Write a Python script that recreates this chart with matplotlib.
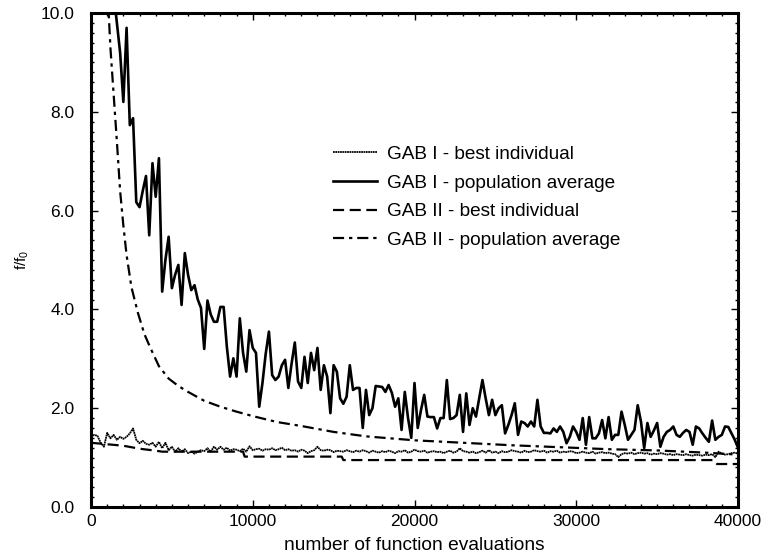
import numpy as np
import matplotlib
matplotlib.use("Agg")
import matplotlib.pyplot as plt
from matplotlib.ticker import MultipleLocator, FormatStrFormatter

plt.rcParams['font.family'] = ['Liberation Sans', 'DejaVu Sans']

# evaluations grid for GAB I series (one point per 200 evaluations)
evals = np.arange(0, 40001, 200)

gab1_avg = [
    30, 25, 21, 18, 15.5, 13.5, 11.8, 10.4, 9.8, 9.2,
    8.2, 9.7, 7.73, 7.87, 6.17, 6.07, 6.4, 6.7, 5.5, 6.96,
    6.28, 7.06, 4.36, 5.0, 5.47, 4.43, 4.7, 4.9, 4.09, 5.14,
    4.7, 4.39, 4.49, 4.2, 4.03, 3.2, 4.18, 3.9, 3.75, 3.75,
    4.05, 4.05, 3.24, 2.64, 3.01, 2.64, 3.82, 3.12, 2.74, 3.58,
    3.22, 3.12, 2.03, 2.51, 3.1, 3.55, 2.67, 2.57, 2.64, 2.87,
    2.98, 2.41, 2.9, 3.33, 2.54, 2.41, 3.04, 2.51, 3.12, 2.77,
    3.22, 2.37, 2.87, 2.64, 1.9, 2.87, 2.74, 2.2, 2.09, 2.23,
    2.87, 2.37, 2.41, 2.41, 1.6, 2.37, 1.86, 2.0, 2.45, 2.44,
    2.43, 2.33, 2.47, 2.31, 2.03, 2.2, 1.56, 2.33, 1.8, 1.4,
    2.51, 1.6, 1.96, 2.27, 1.83, 1.82, 1.82, 1.59, 1.8, 1.8,
    2.57, 1.78, 1.8, 1.86, 2.27, 1.52, 2.3, 1.66, 2.0, 1.83,
    2.2, 2.57, 2.2, 1.86, 2.17, 1.86, 2.0, 2.06, 1.49, 1.66,
    1.86, 2.1, 1.46, 1.73, 1.7, 1.63, 1.73, 1.63, 2.17, 1.63,
    1.5, 1.5, 1.49, 1.59, 1.52, 1.63, 1.52, 1.29, 1.42, 1.63,
    1.52, 1.36, 1.8, 1.26, 1.82, 1.39, 1.39, 1.49, 1.76, 1.39,
    1.82, 1.36, 1.46, 1.46, 1.93, 1.66, 1.36, 1.46, 1.56, 2.06,
    1.73, 1.19, 1.7, 1.42, 1.55, 1.7, 1.22, 1.42, 1.52, 1.56,
    1.63, 1.46, 1.42, 1.5, 1.56, 1.52, 1.26, 1.63, 1.59, 1.49,
    1.4, 1.32, 1.75, 1.36, 1.42, 1.46, 1.63, 1.62, 1.49, 1.36,
    1.2,
]

gab1_best = [
    1.42, 1.46, 1.44, 1.3, 1.22, 1.5, 1.39, 1.46, 1.36, 1.42,
    1.38, 1.42, 1.49, 1.59, 1.36, 1.29, 1.34, 1.28, 1.26, 1.3,
    1.22, 1.32, 1.19, 1.3, 1.15, 1.22, 1.12, 1.19, 1.12, 1.17,
    1.09, 1.12, 1.08, 1.12, 1.15, 1.13, 1.19, 1.12, 1.22, 1.16,
    1.22, 1.16, 1.2, 1.14, 1.17, 1.16, 1.13, 1.18, 1.12, 1.23,
    1.15, 1.17, 1.18, 1.14, 1.17, 1.16, 1.19, 1.15, 1.17, 1.2,
    1.15, 1.17, 1.14, 1.15, 1.12, 1.16, 1.14, 1.09, 1.13, 1.15,
    1.22, 1.15, 1.14, 1.16, 1.15, 1.11, 1.14, 1.13, 1.12, 1.15,
    1.13, 1.11, 1.14, 1.12, 1.15, 1.13, 1.1, 1.14, 1.12, 1.1,
    1.13, 1.11, 1.14, 1.12, 1.09, 1.13, 1.12, 1.15, 1.1, 1.12,
    1.16, 1.13, 1.12, 1.14, 1.1, 1.12, 1.13, 1.11, 1.12, 1.09,
    1.12, 1.14, 1.1, 1.12, 1.19, 1.13, 1.12, 1.1, 1.12, 1.09,
    1.11, 1.14, 1.1, 1.15, 1.1, 1.12, 1.09, 1.13, 1.11, 1.12,
    1.15, 1.13, 1.12, 1.1, 1.14, 1.11, 1.12, 1.15, 1.13, 1.12,
    1.14, 1.1, 1.13, 1.12, 1.14, 1.1, 1.12, 1.11, 1.13, 1.12,
    1.09, 1.1, 1.12, 1.1, 1.09, 1.12, 1.08, 1.1, 1.11, 1.09,
    1.1, 1.08, 1.07, 1.01, 1.07, 1.09, 1.08, 1.1, 1.07, 1.09,
    1.1, 1.08, 1.09, 1.06, 1.08, 1.07, 1.09, 1.08, 1.06, 1.07,
    1.05, 1.07, 1.06, 1.05, 1.07, 1.05, 1.04, 1.06, 1.05, 1.04,
    1.06, 1.05, 1.07, 1.01, 1.12, 1.08, 1.06, 1.07, 1.09, 1.1,
    1.08,
]

gab2_best_x = [0, 1000, 2000, 3000, 4000, 4400, 9400, 9500, 15500, 15600, 38500, 38700, 40000]
gab2_best = [1.3, 1.27, 1.24, 1.18, 1.14, 1.12, 1.12, 1.02, 1.02, 0.95, 0.95, 0.87, 0.87]

gab2_avg_x = [600, 800, 1000, 1200, 1400, 1600, 1800, 2000, 2200, 2500, 2900, 3300, 3700,
              4200, 4800, 5400, 6000, 7000, 8000, 9000, 10000, 11500, 13000, 15000, 17000,
              20000, 23000, 26000, 29000, 32000, 35000, 38000, 40000]
gab2_avg = [16, 13, 10.6, 9.3, 8.35, 7.4, 6.4, 5.7, 5.1, 4.45, 3.93, 3.5, 3.2,
            2.85, 2.6, 2.45, 2.33, 2.15, 2.03, 1.93, 1.84, 1.72, 1.64, 1.52, 1.43,
            1.35, 1.3, 1.25, 1.21, 1.17, 1.145, 1.1, 1.06]

labels = ["GAB I - best individual", "GAB I - population average",
          "GAB II - best individual", "GAB II - population average"]

fig = plt.figure(figsize=(7.66, 5.55), dpi=100)
ax = fig.add_axes([91/766, 1-507/555, (738-91)/766, (507-13)/555])

ax.plot(evals, gab1_best, color='black', lw=1.3, ls=(0, (1, 0.3)), label=labels[0])
ax.plot(evals, gab1_avg, color='black', lw=1.9, label=labels[1])
ax.plot(gab2_best_x, gab2_best, color='black', lw=1.6, ls=(0, (5, 2.5)), label=labels[2])
ax.plot(gab2_avg_x, gab2_avg, color='black', lw=1.6, ls=(0, (5, 2.2, 1.5, 2.2)), label=labels[3])

ax.set_xlim(0, 40000)
ax.set_ylim(0, 10)
ax.xaxis.set_major_locator(MultipleLocator(10000))
ax.xaxis.set_minor_locator(MultipleLocator(1000))
ax.yaxis.set_major_locator(MultipleLocator(2))
ax.yaxis.set_minor_locator(MultipleLocator(0.2))
ax.yaxis.set_major_formatter(FormatStrFormatter('%.1f'))
ax.tick_params(which='both', direction='in', top=True, right=True, labelsize=12.5, width=1.0)
ax.tick_params(which='major', length=5)
ax.tick_params(which='minor', length=2.5)
ax.tick_params(axis='x', pad=5)
ax.tick_params(axis='y', pad=12)
for s in ax.spines.values():
    s.set_linewidth(2.2)

ax.set_xlabel("number of function evaluations", fontsize=13.8, labelpad=6)
ax.set_ylabel(r"$\mathregular{f/f_0}$", fontsize=11, labelpad=7)

leg = ax.legend(loc='upper left', bbox_to_anchor=(323/766, 1-136/555),
                bbox_transform=fig.transFigure, frameon=False, fontsize=13.7,
                handlelength=2.35, handletextpad=0.5, labelspacing=0.6, borderpad=0)

fig.savefig("out.png", dpi=100)
